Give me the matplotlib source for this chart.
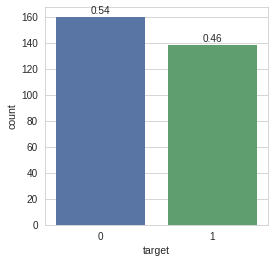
import numpy as np
import matplotlib.pyplot as plt
import seaborn as sns

sns.set_style("whitegrid")
plt.rcParams['font.family'] = ['Liberation Sans', 'DejaVu Sans']

# Class counts for the target column
categories = ["0", "1"]
counts = [160, 139]
ratios = ["0.54", "0.46"]
colors = ["#5975A4", "#5F9E6E"]

fig = plt.figure(figsize=(275 / 72, 262 / 72), dpi=72)
ax = fig.add_axes([45 / 275, 37 / 262, 223 / 275, 218 / 262])

x = np.arange(len(categories))
bars = ax.bar(x, counts, width=0.8, color=colors, edgecolor="none")
for b, r in zip(bars, ratios):
    ax.annotate(r, (b.get_x() + b.get_width() / 2, b.get_height()),
                ha="center", va="bottom", xytext=(0, 1), textcoords="offset points",
                fontsize=10, color="#262626")

ax.set_xticks(x)
ax.set_xticklabels(categories)
ax.set_xlim(-0.5, 1.5)
ax.set_ylim(0, 168)
ax.set_xlabel("target", fontsize=10.5)
ax.set_ylabel("count", fontsize=10.5)
ax.tick_params(labelsize=10)
ax.xaxis.grid(False)
ax.set_axisbelow(True)

fig.savefig("out.png", dpi=72)
